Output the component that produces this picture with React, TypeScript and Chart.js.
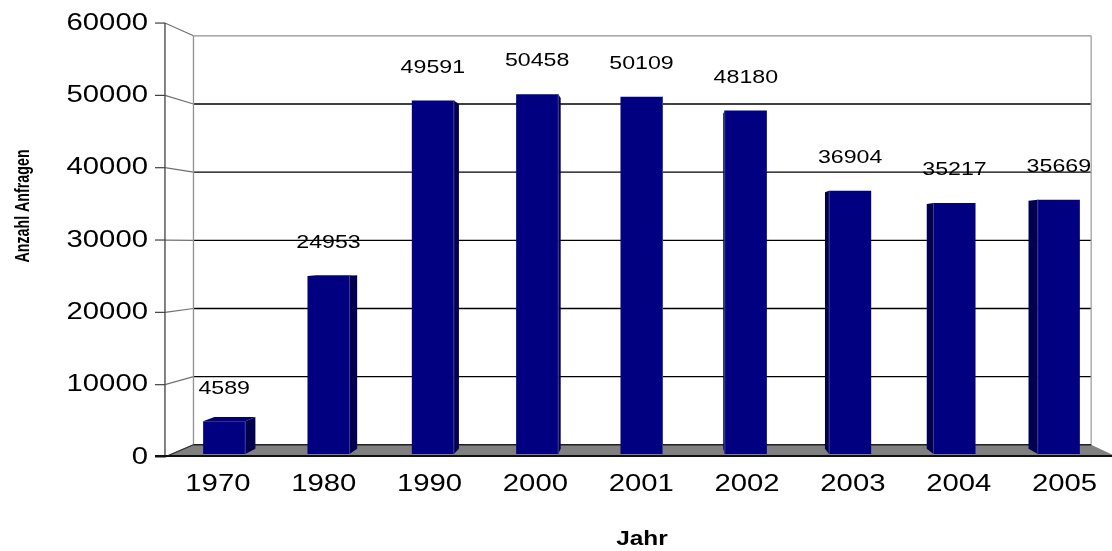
import React, { useEffect, useRef } from 'react';
import { Chart, registerables } from 'chart.js';

Chart.register(...registerables);

// ---- data ----
const categories = ['1970', '1980', '1990', '2000', '2001', '2002', '2003', '2004', '2005'];
const values = [4589, 24953, 49591, 50458, 50109, 48180, 36904, 35217, 35669];
const yMin = 0;
const yMax = 60000;
const yStep = 10000;
const xTitle = 'Jahr';
const yTitle = 'Anzahl Anfragen';

// ---- perspective / style ----
const VP = { x: 660, y: 245 };
const S_FRONT = 1 / 0.9858; // bar plane -> front plane
const S_BARBACK = 0.9754; // bar plane -> back face of a bar
const S_WALL = 0.956; // bar plane -> back wall
const SX = 1.22; // horizontal stretch of the text
const FONT = '"Liberation Sans", Arial, sans-serif';

type P = { x: number; y: number };
const proj = (p: P, s: number): P => ({ x: VP.x + (p.x - VP.x) * s, y: VP.y + (p.y - VP.y) * s });

function drawText(
  ctx: CanvasRenderingContext2D,
  text: string,
  x: number,
  y: number,
  font: string,
  align: CanvasTextAlign,
  baseline: CanvasTextBaseline,
  rotate = 0,
  sx = SX,
  sy = 1
) {
  ctx.save();
  ctx.translate(x, y);
  ctx.scale(sx, sy);
  if (rotate) ctx.rotate(rotate);
  ctx.font = font;
  ctx.fillStyle = '#000000';
  ctx.textAlign = align;
  ctx.textBaseline = baseline;
  ctx.fillText(text, 0, 0);
  ctx.restore();
}

function poly(ctx: CanvasRenderingContext2D, pts: P[], fill: string | null, stroke?: string, lw = 1) {
  ctx.beginPath();
  pts.forEach((p, i) => (i === 0 ? ctx.moveTo(p.x, p.y) : ctx.lineTo(p.x, p.y)));
  ctx.closePath();
  if (fill) {
    ctx.fillStyle = fill;
    ctx.fill();
  }
  if (stroke) {
    ctx.strokeStyle = stroke;
    ctx.lineWidth = lw;
    ctx.stroke();
  }
}

function line(ctx: CanvasRenderingContext2D, a: P, b: P, color: string, lw = 1) {
  ctx.beginPath();
  ctx.moveTo(a.x, a.y);
  ctx.lineTo(b.x, b.y);
  ctx.strokeStyle = color;
  ctx.lineWidth = lw;
  ctx.stroke();
}

function tickValues(scale: any): number[] {
  if (scale.ticks && scale.ticks.length) return scale.ticks.map((t: any) => t.value);
  const out: number[] = [];
  for (let v = yMin; v <= yMax; v += yStep) out.push(v);
  return out;
}

const scenePlugin = {
  id: 'scene3d',
  beforeDatasetsDraw(chart: any) {
    const { ctx, chartArea: a, scales } = chart;
    const ys = scales.y;
    const ticks = tickValues(ys);
    const y0 = ys.getPixelForValue(yMin);
    const yT = ys.getPixelForValue(yMax);

    const fBL = proj({ x: a.left, y: y0 }, S_FRONT);
    const fBR = proj({ x: a.right, y: y0 }, S_FRONT);
    const fTL = proj({ x: a.left, y: yT }, S_FRONT);
    const wBL = proj({ x: a.left, y: y0 }, S_WALL);
    const wBR = proj({ x: a.right, y: y0 }, S_WALL);
    const wTL = proj({ x: a.left, y: yT }, S_WALL);
    const wTR = proj({ x: a.right, y: yT }, S_WALL);

    ctx.save();
    ctx.lineCap = 'butt';
    // back grid lines
    ticks.forEach((v) => {
      const py = ys.getPixelForValue(v);
      const bl = proj({ x: a.left, y: py }, S_WALL);
      const br = proj({ x: a.right, y: py }, S_WALL);
      const fl = proj({ x: a.left, y: py }, S_FRONT);
      if (v !== yMin && v !== yMax) line(ctx, bl, br, '#000000', 1.3);
      // left wall line
      line(ctx, fl, bl, '#707070', 1.2);
      // tick mark
      line(ctx, { x: fl.x - 10, y: fl.y }, fl, '#404040', 1.2);
    });
    // wall edges
    line(ctx, wTL, wBL, '#909090', 1.3);
    line(ctx, wTL, wTR, '#909090', 1.3);
    line(ctx, wTR, wBR, '#a0a0a0', 1.3);
    // front axis
    line(ctx, fTL, fBL, '#404040', 1.3);
    // floor
    poly(ctx, [fBL, fBR, wBR, wBL], '#808080');
    line(ctx, wBL, wBR, '#202020', 1.5);
    line(ctx, fBL, wBL, '#303030', 1.2);
    line(ctx, { x: fBL.x - 10, y: fBL.y - 1 }, { x: fBR.x, y: fBR.y - 1 }, '#101010', 2.2);

    // 3D faces of the bars
    const meta = chart.getDatasetMeta(0);
    meta.data.forEach((el: any) => {
      const { x: cx, y: top, base, width } = el.getProps(['x', 'y', 'base', 'width'], true);
      const l = cx - width / 2;
      const r = cx + width / 2;
      const e = cx < VP.x ? r : l;
      const sidePts = [
        { x: e, y: top },
        proj({ x: e, y: top }, S_BARBACK),
        proj({ x: e, y: base }, S_BARBACK),
        { x: e, y: base },
      ];
      poly(ctx, sidePts, '#00004e');
      if (top > VP.y) {
        poly(
          ctx,
          [{ x: l, y: top }, { x: r, y: top }, proj({ x: r, y: top }, S_BARBACK), proj({ x: l, y: top }, S_BARBACK)],
          '#000072'
        );
      }
    });
    ctx.restore();
  },
  afterDatasetsDraw(chart: any) {
    const { ctx, scales } = chart;
    const ys = scales.y;
    const meta = chart.getDatasetMeta(0);
    ctx.save();
    meta.data.forEach((el: any, i: number) => {
      const { x: cx, y: top, base, width } = el.getProps(['x', 'y', 'base', 'width'], true);
      // light edge between front and side
      const e = cx < VP.x ? cx + width / 2 : cx - width / 2;
      line(ctx, { x: e, y: top }, { x: e, y: base }, '#3a3a98', 1);
      // value label
      drawText(ctx, String(values[i]), cx, top - 33, `19px ${FONT}`, 'center', 'middle');
      // category label on the front plane
      const fp = proj({ x: cx, y: base }, S_FRONT);
      drawText(ctx, categories[i], fp.x, 490.5, `24px ${FONT}`, 'center', 'alphabetic');
    });
    // y tick labels on the front plane
    tickValues(ys).forEach((v) => {
      const py = ys.getPixelForValue(v);
      const fl = proj({ x: chart.chartArea.left, y: py }, S_FRONT);
      drawText(ctx, String(v), fl.x - 17, fl.y, `24px ${FONT}`, 'right', 'middle');
    });
    // titles
    drawText(ctx, yTitle, 23, 206, `bold 19px ${FONT}`, 'center', 'middle', -Math.PI / 2, 1.1, 0.75);
    drawText(ctx, xTitle, 642, 545, `bold 20px ${FONT}`, 'center', 'alphabetic');
    ctx.restore();
  },
};

export default function App() {
  const ref = useRef<HTMLCanvasElement | null>(null);
  useEffect(() => {
    if (!ref.current) return;
    const chart = new Chart(ref.current, {
      type: 'bar',
      data: {
        labels: categories,
        datasets: [
          {
            data: values,
            backgroundColor: '#000080',
            borderWidth: 0,
            barPercentage: 0.403,
            categoryPercentage: 1,
          },
        ],
      },
      options: {
        animation: false,
        responsive: false,
        events: [],
        layout: { padding: { left: 172, right: 1, top: 26.2, bottom: 97 } },
        plugins: { legend: { display: false }, tooltip: { enabled: false } },
        scales: {
          x: { display: false, offset: true },
          y: { display: false, min: yMin, max: yMax, ticks: { stepSize: yStep } },
        },
      },
      plugins: [scenePlugin],
    });
    return () => chart.destroy();
  }, []);
  return (
    <div style={{ position: 'absolute', left: 0, top: 0, width: 1112, height: 551, background: '#ffffff' }}>
      <canvas ref={ref} width={1112} height={551} />
    </div>
  );
}
